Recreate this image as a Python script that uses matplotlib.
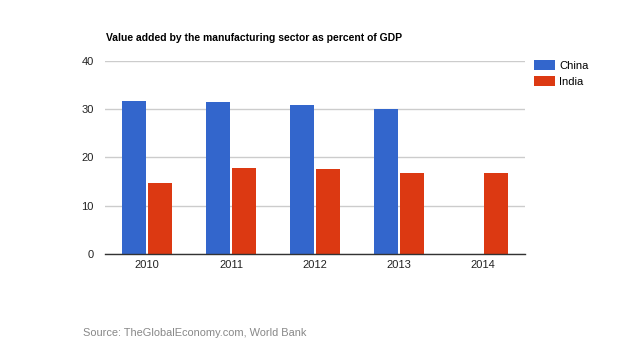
import matplotlib
matplotlib.use("Agg")
import matplotlib.pyplot as plt
import numpy as np

plt.rcParams['font.family'] = ['Liberation Sans', 'DejaVu Sans']

years = ['2010', '2011', '2012', '2013', '2014']
china = [31.7, 31.4, 30.9, 30.0, np.nan]
india = [14.7, 17.8, 17.6, 16.9, 16.9]
series_names = ['China', 'India']
colors = ['#3366CC', '#DC3912']
title = 'Value added by the manufacturing sector as percent of GDP'
source = 'Source: TheGlobalEconomy.com, World Bank'

fig = plt.figure(figsize=(6.3, 3.54), dpi=100)
ax = fig.add_axes([105/630, 1-254.3/354, 420/630, (254.3-60.7)/354])

x = np.arange(len(years))
w = 0.29
off = 0.155
ax.bar(x - off, china, width=w, color=colors[0], label=series_names[0])
ax.bar(x + off, india, width=w, color=colors[1], label=series_names[1])

ax.set_xlim(-0.5, len(years) - 0.5)
ax.set_ylim(0, 40)
ax.set_yticks([0, 10, 20, 30, 40])
ax.set_xticks(x)
ax.set_xticklabels(years)
ax.yaxis.grid(True, color='#cccccc', linewidth=1)
ax.set_axisbelow(True)
for s in ['top', 'right', 'left']:
    ax.spines[s].set_visible(False)
ax.spines['bottom'].set_color('#333333')
ax.spines['bottom'].set_linewidth(1)
ax.tick_params(axis='both', length=0, labelsize=8, colors='#222222')
ax.tick_params(axis='y', pad=8)
ax.tick_params(axis='x', pad=4)

fig.text(106/630, 1-38/354, title, fontsize=7.45, fontweight='bold', color='#000000', va='center', ha='left')
fig.text(83/630, 1-333/354, source, fontsize=7.9, color='#888888', va='center', ha='left')

leg = ax.legend(loc='upper left', bbox_to_anchor=(1.01, 1.025), frameon=False, fontsize=8,
                handlelength=1.9, handleheight=0.9, borderaxespad=0, labelspacing=0.5, handletextpad=0.4)

fig.savefig('out.png', dpi=100, facecolor='white')
